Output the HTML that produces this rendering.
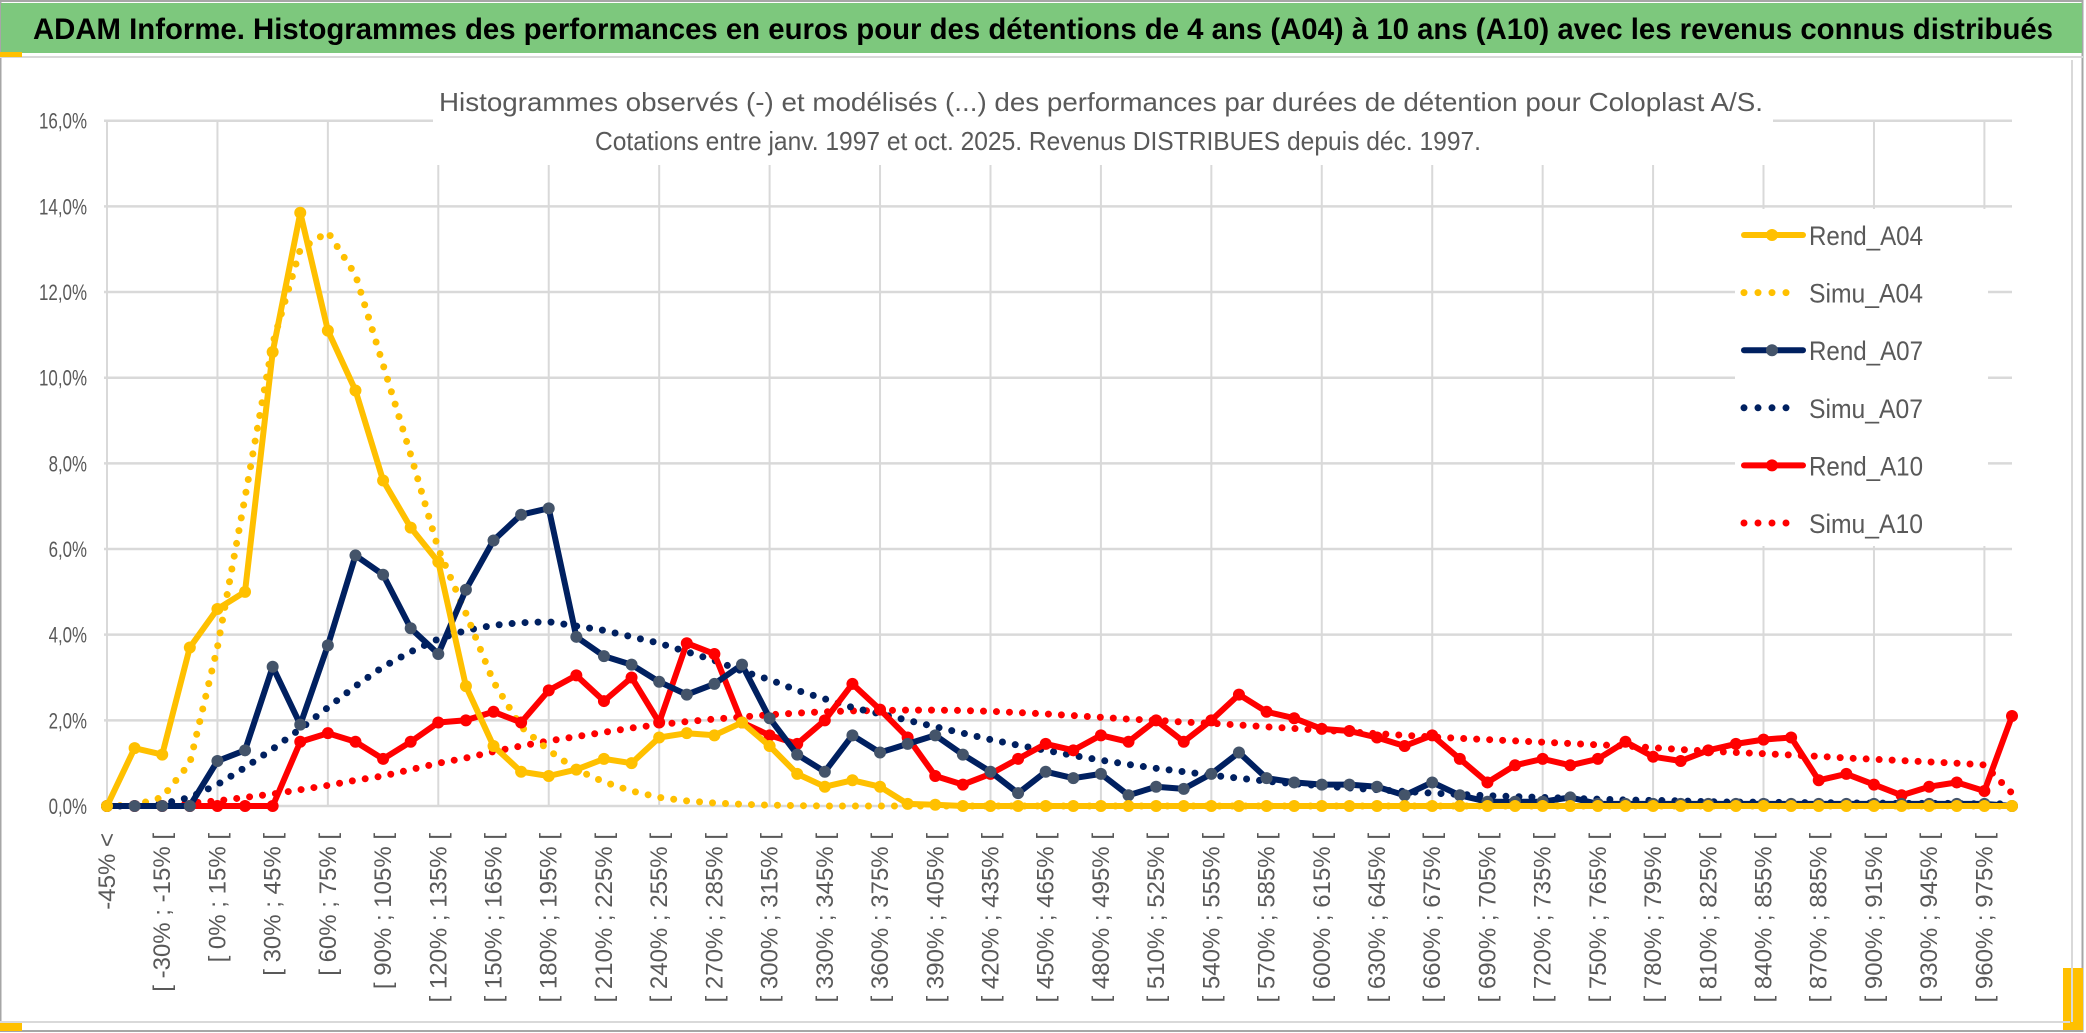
<!DOCTYPE html>
<html><head><meta charset="utf-8"><style>
html,body{margin:0;padding:0;background:#fff;}
svg{display:block;font-family:"Liberation Sans",sans-serif;}
</style></head><body>
<svg id="chart" width="2086" height="1033" viewBox="0 0 2086 1033" xmlns="http://www.w3.org/2000/svg">
<rect x="0" y="0" width="2086" height="1033" fill="#fff"/>
<rect x="0.5" y="1" width="2082" height="1030" fill="none" stroke="#a6a6a6" stroke-width="2"/>
<rect x="1" y="3" width="2081" height="50" fill="#7dc87d"/>
<line x1="0" y1="57" x2="2083" y2="57" stroke="#d9d9d9" stroke-width="2"/>
<rect x="0" y="52" width="22" height="5" fill="#ffc000"/>
<rect x="0" y="1023" width="22" height="8" fill="#ffc000"/>
<rect x="2063" y="968" width="20" height="62" fill="#ffc000"/>
<line x1="0" y1="1022" x2="2070" y2="1022" stroke="#d9d9d9" stroke-width="2"/>
<line x1="2072" y1="60" x2="2072" y2="1022" stroke="#d9d9d9" stroke-width="2"/>
<text x="33" y="39" font-size="30" font-weight="bold" fill="#000" textLength="2020" lengthAdjust="spacingAndGlyphs">ADAM Informe. Histogrammes des performances en euros pour des détentions de 4 ans (A04) à 10 ans (A10) avec les revenus connus distribués</text>
<g id="grid"></g>
<rect x="433" y="84" width="1340" height="81" fill="#fff"/>
<text x="439" y="111" font-size="26" fill="#595959" textLength="1324" lengthAdjust="spacingAndGlyphs">Histogrammes observés (-) et modélisés (...) des performances par durées de détention pour Coloplast A/S.</text>
<text x="595" y="150" font-size="26" fill="#595959" textLength="886" lengthAdjust="spacingAndGlyphs">Cotations entre janv. 1997 et oct. 2025. Revenus DISTRIBUES depuis déc. 1997.</text>
<rect x="1735" y="209" width="253" height="337" fill="#fff"/>
<g id="yaxis"></g>
<g id="xaxis"></g>
<g id="series"></g>
<g id="legend"></g>
</svg>
<script>
const rendA04 = [0,1.35,1.2,3.7,4.6,5.0,10.6,13.85,11.1,9.7,7.6,6.5,5.7,2.8,1.4,0.8,0.7,0.85,1.1,1.0,1.6,1.7,1.65,1.95,1.4,0.75,0.45,0.6,0.45,0.05,0.03,0,0,0,0,0,0,0,0,0,0,0,0,0,0,0,0,0,0,0,0,0,0,0,0,0,0,0,0,0,0,0,0,0,0,0,0,0,0,0];
const simuA04 = [0,0.02,0.2,1.0,3.7,7.2,10.8,13.0,13.4,12.4,10.3,8.2,6.0,4.5,2.9,1.85,1.3,0.85,0.56,0.35,0.2,0.12,0.07,0.04,0.02,0.01,0,0,0,0,0,0,0,0,0,0,0,0,0,0,0,0,0,0,0,0,0,0,0,0,0,0,0,0,0,0,0,0,0,0,0,0,0,0,0,0,0,0,0,0];
const rendA07 = [0,0,0,0,1.05,1.3,3.25,1.9,3.75,5.85,5.4,4.15,3.55,5.05,6.2,6.8,6.95,3.95,3.5,3.3,2.9,2.6,2.85,3.3,2.05,1.2,0.8,1.65,1.25,1.45,1.65,1.2,0.8,0.3,0.8,0.65,0.75,0.25,0.45,0.4,0.75,1.25,0.65,0.55,0.5,0.5,0.45,0.25,0.55,0.25,0.1,0.1,0.1,0.2,0.05,0.05,0.05,0.05,0.05,0.05,0.05,0.05,0.05,0.05,0.05,0.05,0.05,0.05,0.05,0];
const simuA07 = [0,0,0.05,0.2,0.5,0.9,1.33,1.8,2.3,2.8,3.25,3.6,3.9,4.1,4.22,4.28,4.3,4.2,4.1,3.95,3.8,3.6,3.4,3.15,2.95,2.7,2.5,2.3,2.15,2.0,1.85,1.7,1.55,1.42,1.3,1.18,1.07,0.97,0.88,0.8,0.72,0.65,0.58,0.52,0.47,0.42,0.38,0.34,0.3,0.27,0.24,0.22,0.2,0.18,0.16,0.14,0.13,0.12,0.1,0.09,0.09,0.08,0.08,0.07,0.07,0.06,0.06,0.06,0.05,0.05];
const rendA10 = [0,0,0,0,0,0,0,1.5,1.7,1.5,1.1,1.5,1.95,2.0,2.2,1.95,2.7,3.05,2.45,3.0,1.95,3.8,3.55,1.95,1.65,1.45,2.0,2.85,2.25,1.6,0.7,0.5,0.75,1.1,1.45,1.3,1.65,1.5,2.0,1.5,2.0,2.6,2.2,2.05,1.8,1.75,1.6,1.4,1.65,1.1,0.55,0.95,1.1,0.95,1.1,1.5,1.15,1.05,1.3,1.45,1.55,1.6,0.6,0.75,0.5,0.25,0.45,0.55,0.35,2.1];
const simuA10 = [0,0.01,0.03,0.07,0.12,0.2,0.28,0.38,0.48,0.6,0.7,0.85,1.0,1.12,1.27,1.4,1.52,1.62,1.72,1.82,1.9,1.97,2.03,2.08,2.13,2.17,2.2,2.22,2.23,2.24,2.24,2.23,2.21,2.18,2.15,2.11,2.07,2.03,2.0,1.96,1.93,1.89,1.85,1.81,1.77,1.73,1.69,1.65,1.61,1.58,1.55,1.52,1.49,1.46,1.43,1.4,1.36,1.32,1.28,1.25,1.22,1.19,1.16,1.12,1.09,1.06,1.03,1.0,0.96,0.3];
const yTicks = [0,2,4,6,8,10,12,14,16];
const yTickLabels = ["0,0%","2,0%","4,0%","6,0%","8,0%","10,0%","12,0%","14,0%","16,0%"];
const categories = ["-45% <"];
for (let lo = -45; lo <= 975; lo += 15) categories.push("[ " + lo + "% ; " + (lo + 15) + "% [");

const NS = "http://www.w3.org/2000/svg";
const X0 = 107, X1 = 2012, Y0 = 806, Y1 = 120.7, YMAX = 16;
const n = categories.length;
function xs(i){ return X0 + i * (X1 - X0) / (n - 1); }
function ys(v){ return Y0 - v * (Y0 - Y1) / YMAX; }
function mk(tag, attrs, parent){ const e = document.createElementNS(NS, tag); for (const k in attrs) e.setAttribute(k, attrs[k]); parent.appendChild(e); return e; }

const grid = document.getElementById('grid');
yTicks.forEach(t => {
  const l = mk('line', {x1:104, x2:X1, y1:ys(t), y2:ys(t), stroke:'#d9d9d9', 'stroke-width':2.5}, grid);
  
  
});
for (let i = 0; i < n; i += 4) {
  const l = mk('line', {x1:xs(i), x2:xs(i), y1:Y1, y2:Y0, stroke:'#d9d9d9', 'stroke-width':2}, grid);
  
  
}
const yax = document.getElementById('yaxis');
yTicks.forEach((t, k) => {
  const lab = yTickLabels[k];
  const tx = mk('text', {x:87, y:ys(t) + 8, 'text-anchor':'end', 'font-size':22, fill:'#595959', textLength: lab.length * 9.6, lengthAdjust:'spacingAndGlyphs'}, yax);
  tx.textContent = lab;
  
  
});
const xax = document.getElementById('xaxis');
for (let i = 0; i < n - 1; i += 2) {
  const tx = mk('text', {x:0, y:0, 'text-anchor':'end', 'font-size':24, fill:'#595959', transform:'translate(' + (xs(i) + 8) + ',833) rotate(-90)'}, xax);
  tx.textContent = categories[i];
  
  
}
const ser = document.getElementById('series');
function pts(arr){ return arr.map((v, i) => xs(i).toFixed(1) + ',' + ys(v).toFixed(1)).join(' '); }
function dotted(arr, color, name){
  const p = mk('polyline', {points:pts(arr), fill:'none', stroke:color, 'stroke-width':7, 'stroke-linecap':'round', 'stroke-dasharray':'0 13'}, ser);
  
  
}
function solid(arr, color, mcolor, name){
  const g = mk('g', {}, ser);
  
  
  mk('polyline', {points:pts(arr), fill:'none', stroke:color, 'stroke-width':6, 'stroke-linejoin':'round'}, g);
  arr.forEach((v, i) => {
    const c = mk('circle', {cx:xs(i), cy:ys(v), r:6, fill:mcolor}, g);
    
    
  });
}
dotted(simuA10, '#ff0000', 'simu-a10-line');
dotted(simuA07, '#002060', 'simu-a07-line');
dotted(simuA04, '#ffc000', 'simu-a04-line');
solid(rendA10, '#ff0000', '#ff0000', 'rend-a10-line');
solid(rendA07, '#002060', '#44546a', 'rend-a07-line');
solid(rendA04, '#ffc000', '#ffc000', 'rend-a04-line');

const legendItems = [["Rend_A04","#ffc000","#ffc000",false],["Simu_A04","#ffc000","#ffc000",true],["Rend_A07","#002060","#44546a",false],["Simu_A07","#002060","#002060",true],["Rend_A10","#ff0000","#ff0000",false],["Simu_A10","#ff0000","#ff0000",true]];
const leg = document.getElementById('legend');
legendItems.forEach((it, k) => {
  const y = 235 + k * 57.6;
  const g = mk('g', {}, leg);
  
  
  if (it[3]) {
    mk('line', {x1:1744, x2:1800, y1:y, y2:y, stroke:it[1], 'stroke-width':7, 'stroke-linecap':'round', 'stroke-dasharray':'0 14'}, g);
  } else {
    mk('line', {x1:1744, x2:1803, y1:y, y2:y, stroke:it[1], 'stroke-width':6, 'stroke-linecap':'round'}, g);
    mk('circle', {cx:1772, cy:y, r:6, fill:it[2]}, g);
  }
  const t = mk('text', {x:1809, y:y + 10, 'font-size':27, fill:'#595959', textLength:114, lengthAdjust:'spacingAndGlyphs'}, g);
  t.textContent = it[0];
});
</script>
</body></html>
